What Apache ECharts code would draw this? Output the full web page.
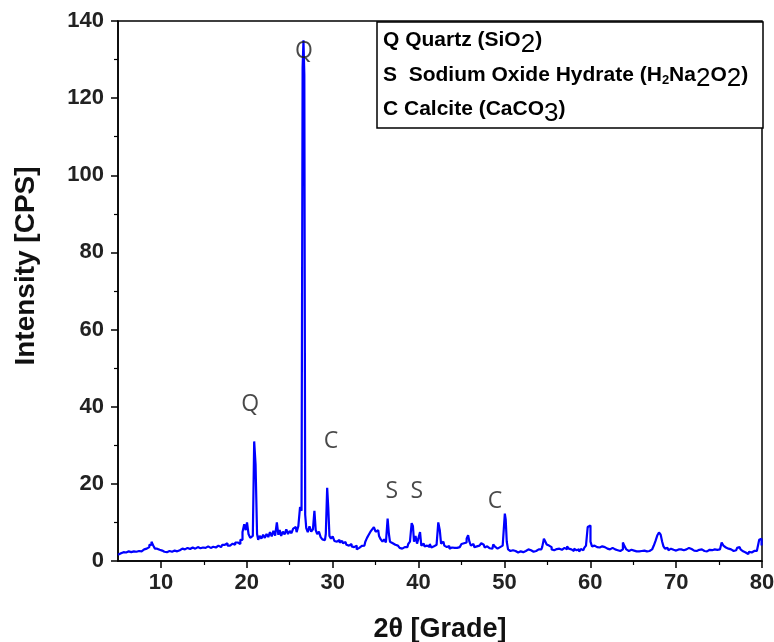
<!DOCTYPE html>
<html>
<head>
<meta charset="utf-8">
<style>
  html, body { margin: 0; padding: 0; background: #fff; }
  #chart { width: 774px; height: 642px; }
</style>
<script src="https://cdn.jsdelivr.net/npm/echarts@6/dist/echarts.min.js"></script>
</head>
<body>
<div id="chart"></div>
<script>
// XRD scan: 2-theta (degrees) against intensity (counts per second)
const twoTheta = [
  5.0, 5.2, 5.5, 5.8, 6.1, 6.4, 6.7, 7.0, 7.3, 7.6, 7.9, 8.2, 8.5, 8.8, 9.0, 9.2, 9.4, 9.7,
  10.0, 10.3, 10.5, 10.7, 11.0, 11.3, 11.6, 11.9, 12.2, 12.5, 12.8, 13.1, 13.4, 13.7,
  14.0, 14.3, 14.6, 14.9, 15.2, 15.5, 15.8, 16.1, 16.4, 16.7, 17.0, 17.3, 17.6, 17.9,
  18.2, 18.5, 18.8, 19.1, 19.4, 19.6, 19.8, 19.95, 20.1, 20.3, 20.5, 20.7, 20.82, 20.9,
  20.98, 21.06, 21.14, 21.25, 21.4, 21.6, 21.8, 22.0, 22.2, 22.4, 22.6, 22.8, 23.0, 23.2,
  23.4, 23.6, 23.75, 23.9, 24.1, 24.3, 24.5, 24.7, 24.9, 25.1, 25.3, 25.5, 25.7, 25.9,
  26.1, 26.3, 26.45, 26.55, 26.65, 26.75, 26.85, 27.0, 27.2, 27.4, 27.6, 27.8, 27.95,
  28.1, 28.3, 28.5, 28.7, 28.9, 29.1, 29.3, 29.42, 29.55, 29.7, 29.9, 30.1, 30.3, 30.5,
  30.7, 30.9, 31.1, 31.3, 31.5, 31.7, 31.9, 32.1, 32.3, 32.5, 32.7, 32.9, 33.1, 33.3,
  33.5, 33.7, 33.9, 34.1, 34.3, 34.5, 34.7, 34.9, 35.1, 35.3, 35.5, 35.7, 35.9, 36.1,
  36.3, 36.5, 36.6, 36.75, 36.9, 37.1, 37.3, 37.5, 37.7, 37.9, 38.1, 38.3, 38.5, 38.7,
  38.9, 39.1, 39.3, 39.4, 39.55, 39.75, 39.9, 40.1, 40.25, 40.4, 40.6, 40.8, 41.0, 41.2,
  41.4, 41.6, 41.8, 42.0, 42.2, 42.4, 42.55, 42.7, 42.9, 43.1, 43.3, 43.5, 43.7, 43.9,
  44.1, 44.3, 44.5, 44.7, 44.9, 45.1, 45.3, 45.5, 45.7, 45.85, 46.0, 46.2, 46.4, 46.6,
  46.8, 47.0, 47.2, 47.4, 47.6, 47.8, 48.0, 48.2, 48.4, 48.6, 48.8, 49.0, 49.2, 49.4,
  49.6, 49.8, 50.0, 50.1, 50.2, 50.35, 50.5, 50.7, 50.9, 51.1, 51.3, 51.5, 51.7, 51.9,
  52.1, 52.3, 52.5, 52.7, 52.9, 53.1, 53.3, 53.5, 53.7, 53.9, 54.1, 54.3, 54.5, 54.7,
  54.85, 55.0, 55.2, 55.4, 55.6, 55.8, 56.0, 56.2, 56.4, 56.6, 56.8, 57.0, 57.2, 57.4,
  57.6, 57.8, 58.0, 58.2, 58.4, 58.6, 58.8, 59.0, 59.2, 59.4, 59.6, 59.8, 59.95, 60.1,
  60.3, 60.5, 60.7, 60.9, 61.1, 61.3, 61.5, 61.7, 61.9, 62.1, 62.3, 62.5, 62.7, 62.9,
  63.1, 63.3, 63.5, 63.7, 63.9, 64.1, 64.3, 64.5, 64.7, 64.9, 65.1, 65.3, 65.5, 65.7,
  65.9, 66.1, 66.3, 66.5, 66.7, 66.9, 67.1, 67.3, 67.5, 67.7, 67.9, 68.1, 68.3, 68.45,
  68.6, 68.8, 69.0, 69.2, 69.4, 69.6, 69.8, 70.0, 70.2, 70.4, 70.6, 70.8, 71.0, 71.2,
  71.4, 71.6, 71.8, 72.0, 72.2, 72.4, 72.6, 72.8, 73.0, 73.2, 73.4, 73.6, 73.8, 74.0,
  74.2, 74.4, 74.6, 74.8, 75.0, 75.2, 75.4, 75.6, 75.8, 76.0, 76.2, 76.4, 76.6, 76.8,
  77.0, 77.2, 77.4, 77.6, 77.8, 78.0, 78.2, 78.4, 78.6, 78.8, 79.0, 79.2, 79.4, 79.6,
  79.75, 79.9, 80.0
];

const intensity = [
  1.6, 2.0, 2.3, 2.2, 2.5, 2.3, 2.5, 2.4, 2.6, 2.5, 3.0, 3.2, 3.6, 4.2, 5.0, 4.0, 3.2, 2.9,
  2.7, 2.4, 1.9, 2.3, 2.6, 2.4, 2.7, 2.5, 2.8, 3.2, 3.0, 3.4, 3.1, 3.5,
  3.2, 3.6, 3.3, 3.5, 3.4, 3.8, 3.4, 3.7, 3.5, 4.0, 3.6, 4.2, 4.6, 4.0,
  4.5, 4.2, 4.8, 4.4, 5.5, 7.5, 9.5, 8.0, 10.0, 7.0, 6.0, 6.5, 6.0, 31.0,
  30.5, 25.0, 24.5, 7.0, 5.5, 6.5, 5.8, 6.8, 6.0, 7.0, 6.2, 7.5, 6.4, 7.8,
  6.6, 10.0, 6.8, 8.0, 6.5, 7.6, 6.9, 8.2, 7.0, 7.8, 7.2, 8.4, 8.8, 7.5,
  9.0, 14.0, 13.0, 128.0, 135.0, 126.0, 12.0, 8.5, 7.5, 9.0, 7.6, 8.2, 13.0,
  8.0, 7.0, 7.6, 6.2, 5.6, 5.4, 7.0, 19.0, 14.0, 6.5, 5.8, 6.4, 5.2, 5.0,
  5.5, 4.8, 5.2, 4.6, 4.9, 4.2, 4.0, 4.4, 3.8, 3.6, 4.0, 3.0, 3.4, 3.9,
  3.6, 4.0, 5.0, 6.0, 6.8, 7.6, 8.2, 8.8, 7.6, 8.0, 6.5, 5.6, 5.0, 5.6,
  4.8, 11.0, 7.0, 5.0, 4.6, 4.8, 4.2, 4.0, 4.5, 3.4, 3.2, 3.6, 3.3, 3.6,
  4.4, 5.0, 9.8, 9.0, 5.0, 6.5, 4.5, 6.0, 7.5, 4.0, 4.5, 3.8, 4.0, 3.6,
  4.4, 3.5, 3.8, 4.2, 4.5, 10.0, 8.0, 4.5, 5.0, 4.0, 3.6, 3.9, 3.2, 3.5,
  3.4, 3.8, 3.4, 3.6, 4.0, 4.4, 4.6, 4.8, 5.8, 6.7, 5.0, 4.0, 4.4, 3.6,
  3.8, 4.0, 3.6, 4.6, 4.2, 3.5, 3.8, 3.3, 3.6, 3.2, 4.3, 3.7, 3.2, 3.6,
  3.4, 4.0, 4.5, 12.3, 10.8, 5.0, 3.0, 2.6, 2.8, 2.4, 2.6, 2.2, 2.7, 2.5,
  2.3, 2.8, 2.6, 3.0, 2.5, 2.8, 2.4, 2.9, 2.6, 3.0, 2.7, 3.0, 3.6, 5.8,
  5.0, 4.3, 4.0, 3.6, 3.0, 2.8, 3.1, 2.7, 3.2, 2.9, 3.0, 3.4, 3.0, 3.8,
  3.2, 3.0, 2.6, 3.2, 2.8, 3.0, 2.4, 3.1, 2.8, 3.4, 4.0, 8.8, 9.2, 5.0,
  3.8, 4.0, 3.6, 3.9, 3.5, 3.8, 3.4, 3.6, 3.2, 3.5, 3.0, 3.4, 3.2, 3.0,
  2.8, 3.2, 2.6, 3.0, 4.8, 3.8, 3.0, 2.6, 2.9, 2.4, 2.7, 2.5, 2.8, 2.5,
  2.6, 2.4, 2.7, 2.5, 2.8, 2.6, 3.0, 3.2, 4.0, 5.2, 6.6, 7.4, 6.8, 5.0,
  3.8, 3.2, 3.4, 2.8, 3.2, 2.9, 3.1, 2.7, 3.0, 2.6, 3.0, 2.8, 3.2, 3.0,
  3.4, 2.9, 3.1, 2.7, 3.0, 2.6, 2.9, 2.7, 3.0, 2.6, 2.8, 2.5, 2.9, 3.2,
  2.8, 3.0, 2.7, 2.9, 3.0, 3.4, 4.8, 4.0, 3.5, 3.2, 2.8, 3.0, 2.6, 2.4,
  2.8, 3.4, 3.6, 3.0, 2.5, 2.2, 2.6, 1.8, 2.4, 2.2, 2.6, 2.3, 2.6, 2.5,
  5.5, 5.8, 4.0
];

// Phase markers written above the peaks they identify
const peakLetters = ['Q', 'Q', 'C', 'S', 'S', 'C'];
const peakLetterAt = [[26.65, 132], [20.4, 40.5], [29.8, 31], [36.9, 18], [39.8, 18], [48.9, 15.5]];

// Phase key lines
const phaseKey = [
  '{b|Q Quartz (SiO}{big|2}{b|)}',
  '{b|S  Sodium Oxide Hydrate (H}{sub|2}{b|Na}{big|2}{b|O}{big|2}{b|)}',
  '{b|C Calcite (CaCO}{big|3}{b|)}'
];

// Axis ticks: labelled majors and the unlabelled halfway minors
const xRange = [5, 80];
const xMajorTicks = [10, 20, 30, 40, 50, 60, 70, 80];
const xMinorTicks = [15, 25, 35, 45, 55, 65, 75];
const yRange = [0, 140];
const yStep = 20;

const scan = twoTheta.map((t, i) => [t, intensity[i]]);
const markers = peakLetterAt.map((p, i) => ({ value: p, name: peakLetters[i] }));

const chart = echarts.init(document.getElementById('chart'), null, { renderer: 'canvas' });

const FONT = 'Liberation Sans, Arial, sans-serif';
const tickFont = { fontFamily: FONT, fontSize: 22, fontWeight: 'bold', color: '#222' };

const keyRich = {
  b:   { fontFamily: FONT, fontSize: 21, fontWeight: 'bold', color: '#111' },
  big: { fontFamily: FONT, fontSize: 26, color: '#111', padding: [8, 0, 0, 0] },
  sub: { fontFamily: FONT, fontSize: 13, fontWeight: 'bold', color: '#111', padding: [10, 0, 0, 0] }
};

const axisLineStyle = { color: '#000', width: 1.5 };

chart.setOption({
  backgroundColor: '#fff',
  animation: false,
  grid: {
    left: 118, right: 12, top: 21, bottom: 81,
    outerBoundsMode: 'none',
    show: true, borderColor: '#000', borderWidth: 1.5, backgroundColor: 'transparent'
  },
  xAxis: [
    {
      type: 'value',
      min: xRange[0], max: xRange[1],
      axisLabel: Object.assign({ margin: 11, customValues: xMajorTicks }, tickFont),
      axisLine: { show: true, onZero: false, lineStyle: axisLineStyle },
      axisTick: { show: true, length: 7, lineStyle: axisLineStyle, customValues: xMajorTicks },
      splitLine: { show: false },
      name: '2θ [Grade]',
      nameLocation: 'middle',
      nameGap: 55,
      nameTextStyle: { fontFamily: FONT, fontSize: 27, fontWeight: 'bold', color: '#111' }
    },
    {
      // short halfway ticks along the bottom edge
      type: 'value',
      position: 'bottom',
      min: xRange[0], max: xRange[1],
      axisLabel: { show: false },
      axisLine: { show: false, onZero: false },
      axisTick: { show: true, length: 4, lineStyle: { color: '#000', width: 1.2 }, customValues: xMinorTicks },
      splitLine: { show: false }
    }
  ],
  yAxis: {
    type: 'value',
    min: yRange[0], max: yRange[1], interval: yStep,
    axisLabel: Object.assign({ margin: 14 }, tickFont),
    axisLine: { show: true, onZero: false, lineStyle: axisLineStyle },
    axisTick: { show: true, length: 7, lineStyle: axisLineStyle },
    minorTick: { show: true, splitNumber: 2, length: 4, lineStyle: { color: '#000', width: 1.2 } },
    splitLine: { show: false },
    name: 'Intensity [CPS]',
    nameLocation: 'middle',
    nameGap: 78,
    nameTextStyle: { fontFamily: FONT, fontSize: 28, fontWeight: 'bold', color: '#111', padding: [0, 0, 0, 50] }
  },
  series: [
    {
      type: 'line',
      data: scan,
      step: 'middle',
      showSymbol: false,
      symbol: 'none',
      lineStyle: { color: '#0000ff', width: 2.2 },
      z: 3
    },
    {
      type: 'scatter',
      data: markers,
      symbolSize: 0,
      silent: true,
      label: {
        show: true,
        position: 'inside',
        formatter: p => p.name,
        fontFamily: 'Open Sans, DejaVu Sans, sans-serif',
        fontSize: 23,
        color: '#1a1a1a'
      },
      z: 4
    }
  ],
  graphic: [
    {
      type: 'rect',
      shape: { x: 377, y: 22, width: 386, height: 106 },
      style: { fill: '#fff', stroke: '#000', lineWidth: 1.5 },
      z: 10
    },
    ...phaseKey.map((txt, i) => ({
      type: 'text',
      left: 383,
      top: 30 + i * 34.5,
      z: 11,
      style: { text: txt, rich: keyRich }
    }))
  ]
});
</script>
</body>
</html>
